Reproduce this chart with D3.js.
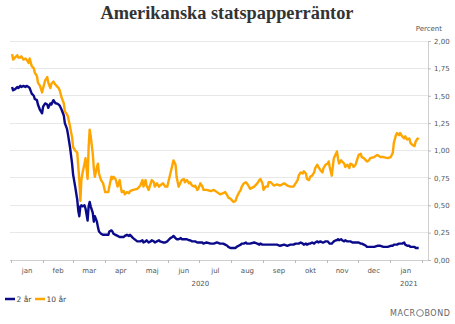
<!DOCTYPE html>
<html><head><meta charset="utf-8">
<script src="https://cdn.jsdelivr.net/npm/d3@7"></script>
<style>html,body{margin:0;padding:0;background:#fff;} svg{display:block;}</style>
</head><body>
<svg id="c" width="455" height="324"></svg>
<script>
// ---- DATA ----
const title = "Amerikanska statspapperräntor";
const unitLabel = "Percent";
const seriesNames = ["2 år", "10 år"];
const monthLabels = ["jan","feb","mar","apr","maj","jun","jul","aug","sep","okt","nov","dec"];
const yTicks = [0, 0.25, 0.5, 0.75, 1.0, 1.25, 1.5, 1.75, 2.0];
const startDate = "2020-01-01";
// days since 2020-01-01
const dayOffsets = [
  1,2,4,6,7,9,10,12,14,15,17,18,20,22,23,25,26,28,30,
  31,33,35,36,38,39,41,43,44,46,47,49,51,52,54,55,57,59,
  60,62,64,65,66,67,68,69,71,72,74,75,76,77,79,80,81,83,84,85,87,89,
  91,94,95,97,98,99,101,103,105,106,107,109,110,112,114,115,118,
  122,125,127,128,130,131,133,135,136,138,139,141,143,144,147,149,151,
  152,154,156,157,159,160,162,164,165,167,168,170,172,173,175,177,178,180,181,
  183,185,186,189,193,196,199,202,205,207,209,210,212,
  214,215,217,218,220,222,223,225,227,228,230,231,235,238,240,241,243,
  244,246,248,249,251,254,257,260,264,267,270,273,
  275,277,278,280,282,283,285,286,288,289,291,293,294,296,297,299,301,302,304,
  306,307,308,310,311,312,314,315,316,317,319,320,322,323,325,327,328,330,331,333,
  335,336,338,339,341,343,344,346,347,351,354,357,360,364,
  367,369,370,372,373,375,376,378,380,381,383,385,386,388,390,391,393,394
];
const tenYear = [
  1.88,1.83,1.85,1.87,1.85,1.85,1.86,1.83,1.84,1.83,1.80,1.84,1.77,1.75,1.71,1.68,1.62,1.59,1.53,
  1.57,1.64,1.67,1.62,1.57,1.61,1.63,1.60,1.59,1.57,1.55,1.48,1.43,1.36,1.33,1.31,1.22,1.12,
  1.03,1.00,0.98,0.85,0.73,0.54,0.73,0.79,0.88,0.93,0.74,1.03,1.19,1.13,0.97,0.84,0.76,0.85,0.88,0.79,0.73,0.70,
  0.62,0.62,0.67,0.76,0.74,0.76,0.74,0.67,0.73,0.67,0.62,0.63,0.60,0.62,0.61,0.63,0.64,
  0.65,0.68,0.73,0.67,0.73,0.68,0.64,0.70,0.73,0.71,0.67,0.70,0.67,0.68,0.70,0.67,0.67,
  0.71,0.79,0.87,0.91,0.87,0.76,0.67,0.71,0.73,0.74,0.71,0.73,0.70,0.71,0.68,0.67,0.68,0.64,0.65,
  0.70,0.67,0.64,0.64,0.63,0.64,0.62,0.60,0.61,0.62,0.59,0.57,0.56,
  0.54,0.53,0.54,0.57,0.61,0.64,0.67,0.70,0.71,0.70,0.67,0.65,0.67,0.70,0.73,0.74,0.70,
  0.64,0.67,0.67,0.71,0.71,0.68,0.69,0.68,0.70,0.68,0.67,0.67,
  0.70,0.73,0.77,0.80,0.79,0.81,0.79,0.74,0.73,0.76,0.77,0.80,0.84,0.87,0.85,0.82,0.80,0.84,0.87,
  0.88,0.90,0.85,0.77,0.85,0.93,0.97,0.99,0.93,0.88,0.91,0.90,0.88,0.85,0.87,0.84,0.88,0.87,0.85,0.87,
  0.93,0.96,0.97,0.94,0.93,0.91,0.90,0.91,0.93,0.94,0.96,0.94,0.94,0.93,
  0.94,0.98,1.07,1.14,1.16,1.14,1.16,1.13,1.11,1.13,1.10,1.11,1.07,1.05,1.04,1.08,1.11,1.10
];
const twoYear = [
  1.58,1.55,1.56,1.58,1.57,1.59,1.58,1.59,1.58,1.59,1.58,1.57,1.52,1.50,1.47,1.46,1.42,1.37,1.34,
  1.40,1.43,1.42,1.39,1.43,1.42,1.46,1.43,1.43,1.42,1.41,1.37,1.32,1.25,1.20,1.15,1.03,0.88,
  0.78,0.67,0.55,0.45,0.40,0.49,0.50,0.49,0.50,0.47,0.36,0.49,0.53,0.49,0.43,0.35,0.40,0.35,0.30,0.26,0.24,0.23,
  0.23,0.23,0.26,0.27,0.26,0.24,0.23,0.22,0.21,0.21,0.21,0.21,0.22,0.23,0.22,0.23,0.20,
  0.17,0.17,0.18,0.16,0.17,0.18,0.16,0.17,0.18,0.17,0.16,0.17,0.18,0.17,0.16,0.16,0.17,
  0.18,0.20,0.21,0.22,0.20,0.19,0.19,0.20,0.19,0.19,0.19,0.19,0.18,0.18,0.17,0.17,0.17,0.16,0.16,
  0.16,0.16,0.15,0.16,0.15,0.15,0.16,0.15,0.15,0.14,0.13,0.12,0.11,
  0.11,0.11,0.11,0.12,0.13,0.14,0.15,0.15,0.16,0.15,0.15,0.15,0.16,0.15,0.14,0.15,0.14,
  0.14,0.14,0.14,0.14,0.14,0.14,0.14,0.13,0.14,0.13,0.14,0.14,
  0.15,0.15,0.15,0.16,0.15,0.14,0.15,0.14,0.15,0.15,0.16,0.15,0.16,0.17,0.16,0.17,0.16,0.16,0.17,
  0.17,0.16,0.15,0.15,0.16,0.17,0.18,0.18,0.19,0.18,0.19,0.18,0.17,0.18,0.17,0.17,0.17,0.16,0.16,0.16,
  0.16,0.16,0.15,0.15,0.14,0.13,0.12,0.12,0.12,0.12,0.13,0.13,0.12,0.12,
  0.13,0.13,0.14,0.14,0.14,0.15,0.15,0.15,0.16,0.14,0.13,0.13,0.12,0.12,0.12,0.11,0.11,0.11
];
const seriesColors = ["#0a0a8a", "#ffa500"];

// ---- CHART ----
const svg = d3.select("#c");
const base = d3.isoParse(startDate + "T00:00:00");
const dates = dayOffsets.map(d => d3.timeDay.offset(base, d));

const x = d3.scaleTime()
  .domain([d3.timeDay.offset(base, -1), d3.timeDay.offset(base, 403)])
  .range([10, 428]);
const y = d3.scaleLinear().domain([0, 2]).range([260, 41]);

// gridlines
svg.append("g").selectAll("line").data(yTicks.filter(t => t > 0)).join("line")
  .attr("x1", 10).attr("x2", 428)
  .attr("y1", d => y(d)).attr("y2", d => y(d))
  .attr("stroke", "#e8e8e8").attr("stroke-width", 1).attr("shape-rendering", "crispEdges");

// right axis
const yAxis = d3.axisRight(y).tickValues(yTicks).tickSize(3).tickPadding(3)
  .tickFormat(d => d3.format(".2f")(d).replace(".", ","));
const ya = svg.append("g").attr("transform", "translate(428,0)").call(yAxis);
ya.select(".domain").attr("stroke", "#cfcfcf");
ya.selectAll(".tick line").attr("stroke", "#bbb");
ya.selectAll("text").attr("fill", "#555").style("font-family", "'DejaVu Sans', sans-serif").style("font-size", "7px");

// bottom axis line + month ticks
svg.append("line").attr("x1", 10).attr("x2", 428).attr("y1", 260.5).attr("y2", 260.5)
  .attr("stroke", "#cfcfcf");
const monthStarts = d3.timeMonth.range(d3.timeMonth.floor(base), d3.timeDay.offset(base, 404));
svg.append("g").selectAll("line").data(monthStarts.filter(m => x(m) <= 426)).join("line")
  .attr("x1", d => Math.round(x(d)) + 0.5).attr("x2", d => Math.round(x(d)) + 0.5)
  .attr("y1", 260).attr("y2", 263).attr("stroke", "#bbb");

// month labels
const xEnd = x.domain()[1];
const monthLab = monthStarts.filter(m => d3.timeMonth.offset(m, 1) <= d3.timeDay.offset(xEnd, 10));
svg.append("g").selectAll("text").data(monthLab).join("text")
  .attr("x", d => (x(d) + x(d3.timeMonth.offset(d, 1))) / 2)
  .attr("y", 273)
  .attr("text-anchor", "middle")
  .attr("fill", "#555")
  .style("font-family", "'DejaVu Sans', sans-serif").style("font-size", "7px")
  .text(d => monthLabels[d.getMonth()]);

// year labels
const years = [2020, 2021];
svg.append("g").selectAll("text").data(years).join("text")
  .attr("x", yr => {
    const s = new Date(yr, 0, 1), e = new Date(yr + 1, 0, 1);
    const a = Math.max(x(s), x.range()[0]), b = Math.min(x(e), x.range()[1]);
    return (a + b) / 2;
  })
  .attr("y", 286)
  .attr("text-anchor", "middle").attr("fill", "#555")
  .style("font-family", "'DejaVu Sans', sans-serif").style("font-size", "7px")
  .text(d => d);

// lines
const series = [twoYear, tenYear];
const line = d3.line().x((d, i) => x(dates[i])).y(d => y(d)).curve(d3.curveLinear);
[1, 0].forEach(k => {
  svg.append("path").datum(series[k]).attr("d", line)
    .attr("fill", "none").attr("stroke", seriesColors[k])
    .attr("stroke-width", 2.4).attr("stroke-linejoin", "round");
});

// title
const t = svg.append("text").attr("x", 227).attr("y", 19).attr("text-anchor", "middle")
  .attr("fill", "#333").style("font-family", "'Liberation Serif', 'DejaVu Serif', serif")
  .style("font-weight", "bold").style("font-size", "17px").text(title);
const tw = t.node().getComputedTextLength();
t.style("font-size", (17 * 253 / tw).toFixed(2) + "px");

// unit label
svg.append("text").attr("x", 442).attr("y", 31).attr("text-anchor", "end").attr("fill", "#555")
  .style("font-family", "'DejaVu Sans', sans-serif").style("font-size", "7px").text(unitLabel);

// legend
const legX = [5, 35];
const lg = svg.append("g");
seriesNames.forEach((n, i) => {
  lg.append("line").attr("x1", legX[i]).attr("x2", legX[i] + 10).attr("y1", 299).attr("y2", 299)
    .attr("stroke", seriesColors[i]).attr("stroke-width", 2.5);
  lg.append("text").attr("x", legX[i] + 11.5).attr("y", 301.5).attr("fill", "#444")
    .style("font-family", "'DejaVu Sans', sans-serif").style("font-size", "7.5px").text(n);
});

// Macrobond logo text
const lgFont = "'DejaVu Sans', sans-serif";
const m1 = svg.append("text").attr("x", 390).attr("y", 316).attr("fill", "#666")
  .style("font-family", lgFont).style("font-size", "8px").style("letter-spacing", "0.6px").text("MACR");
const w1 = m1.node().getComputedTextLength();
svg.append("circle").attr("cx", 390 + w1 + 4.2).attr("cy", 313).attr("r", 3.4)
  .attr("fill", "none").attr("stroke", "#666").attr("stroke-width", 0.8);
svg.append("text").attr("x", 390 + w1 + 8.6).attr("y", 316).attr("fill", "#666")
  .style("font-family", lgFont).style("font-size", "8px").style("letter-spacing", "0.6px").text("BOND");
</script>
</body></html>
